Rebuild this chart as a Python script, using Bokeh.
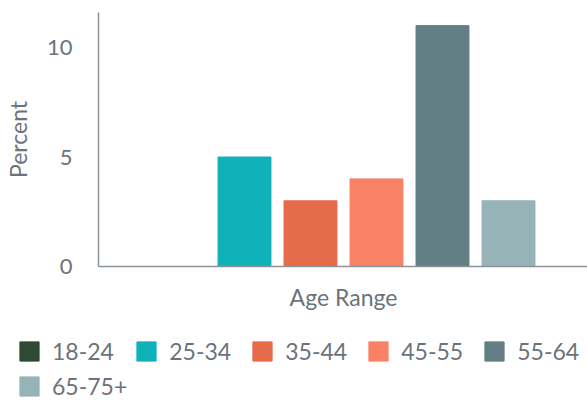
from bokeh.plotting import figure
from bokeh.models import FactorRange, Range1d, Legend, LegendItem, FixedTicker, ColumnDataSource
from bokeh.transform import dodge
from bokeh.embed import file_html
from bokeh.resources import INLINE

category = ["Age Range"]
series = ["18-24", "25-34", "35-44", "45-55", "55-64", "65-75+"]
values = [0, 5, 3, 4, 11, 3]
colors = ["#2E4A36", "#10B2BA", "#E56B4A", "#F98266", "#617F84", "#96B3B7"]
y_ticks = [0, 5, 10]

TEXT = "#6b737c"
AXIS = "#8a929a"
FONT = "Lato"

# main chart
p = figure(frame_width=490, frame_height=254,
           x_range=FactorRange(*category, range_padding=0),
           y_range=Range1d(0, 11.6), output_backend="svg", toolbar_location=None,
           min_border_left=97, min_border_right=0, min_border_top=12, min_border_bottom=60)
p.outline_line_color = None
p.grid.grid_line_color = None

# legend strip (separate root; its bar copies sit outside its visible range)
lg = figure(width=587, height=74, x_range=FactorRange(*category, range_padding=0),
            y_range=Range1d(100, 101), output_backend="svg", toolbar_location=None,
            x_axis_location=None, y_axis_location=None, min_border=0)
lg.outline_line_color = None
lg.grid.grid_line_color = None

step = 0.1347
width = 0.108
n = len(series)
items = []
for i, (s, v, c) in enumerate(zip(series, values, colors)):
    src = ColumnDataSource(dict(x=category, top=[v]))
    off = (i - (n - 1) / 2) * step
    p.vbar(x=dodge("x", off, range=p.x_range), top="top", width=width, source=src,
           fill_color=c, line_color=c)
    r = lg.vbar(x=dodge("x", off, range=lg.x_range), top="top", width=width, source=src,
                fill_color=c, line_color=c)
    items.append(LegendItem(label=s, renderers=[r]))

for ax in (p.xaxis[0], p.yaxis[0]):
    ax.axis_line_color = AXIS
    ax.axis_line_width = 1.5
    ax.major_tick_line_color = None
    ax.minor_tick_line_color = None
    ax.major_label_text_font = FONT
    ax.major_label_text_font_size = "22px"
    ax.major_label_text_color = TEXT
    ax.axis_label_text_font = FONT
    ax.axis_label_text_font_size = "23px"
    ax.axis_label_text_color = TEXT
    ax.axis_label_text_font_style = "normal"

p.xaxis.major_label_text_font_size = "23px"
p.yaxis.ticker = FixedTicker(ticks=y_ticks)
p.yaxis.axis_label = "Percent"
p.yaxis.major_label_standoff = 20
p.yaxis.axis_label_standoff = 12
p.xaxis.major_label_standoff = 10

legend = Legend(items=items, orientation="horizontal", ncols=5, location=(17, 0),
                label_text_font=FONT, label_text_font_size="23px", label_text_color=TEXT,
                glyph_width=24, glyph_height=24, label_standoff=11, spacing=7,
                label_width=74, label_height=28,
                padding=0, margin=0, border_line_color=None, background_fill_alpha=0)
lg.add_layout(legend, "center")

open("out.html", "w").write(file_html([p, lg], INLINE))
